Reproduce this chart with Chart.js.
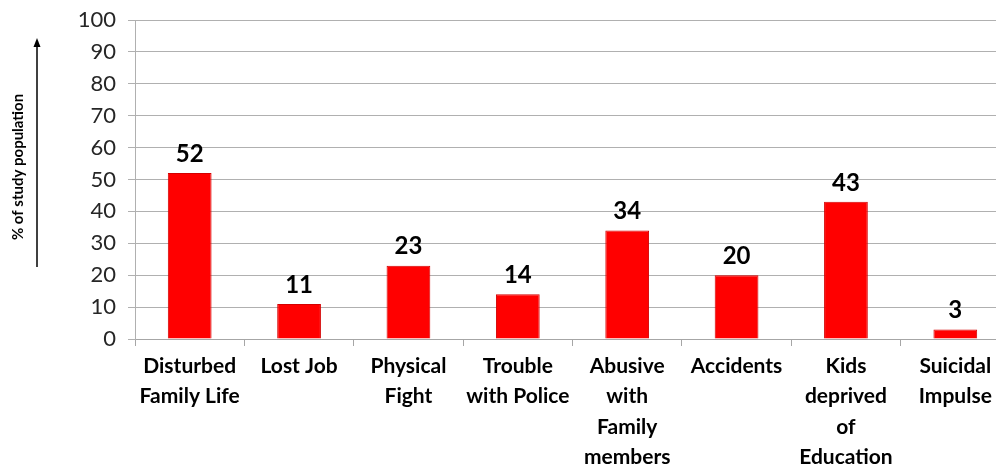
<!DOCTYPE html>
<html>
<head>
<meta charset="utf-8">
<script src="https://cdn.jsdelivr.net/npm/chart.js@4"></script>
<style>
  html, body { margin: 0; padding: 0; background: #fff; overflow: hidden; }
  #wrap { width: 1010px; height: 471px; }
</style>
</head>
<body>
<div id="wrap"><canvas id="chart"></canvas></div>
<script>
// categories (multi-line labels) and values
const categories = [
    ['Disturbed', 'Family Life'],
    ['Lost Job'],
    ['Physical', 'Fight'],
    ['Trouble', 'with Police'],
    ['Abusive', 'with', 'Family', 'members'],
    ['Accidents'],
    ['Kids', 'deprived', 'of', 'Education'],
    ['Suicidal', 'Impulse']
];
const values = [52, 11, 23, 14, 34, 20, 43, 3];
const yTicks = [0, 10, 20, 30, 40, 50, 60, 70, 80, 90, 100];
const yTitle = '% of study population';

const FONT = 'Lato, "Open Sans", sans-serif';

// value labels above each bar
const valueLabels = {
    id: 'valueLabels',
    afterDatasetsDraw(chart) {
        const ctx = chart.ctx;
        const meta = chart.getDatasetMeta(0);
        ctx.save();
        ctx.font = 'bold 24px ' + FONT;
        ctx.fillStyle = '#000';
        ctx.textAlign = 'center';
        ctx.textBaseline = 'bottom';
        meta.data.forEach((bar, i) => {
            ctx.fillText(values[i], bar.x, bar.y - 7);
        });
        ctx.restore();
    }
};

// rotated axis title with an upward arrow beside it
const axisTitle = {
    id: 'axisTitle',
    afterDraw(chart) {
        const ctx = chart.ctx;
        ctx.save();
        ctx.translate(18, 167);
        ctx.rotate(-Math.PI / 2);
        ctx.font = 'bold 15px ' + FONT;
        ctx.fillStyle = '#000';
        ctx.textAlign = 'center';
        ctx.textBaseline = 'middle';
        ctx.fillText(yTitle, 0, 0);
        ctx.restore();

        ctx.save();
        ctx.strokeStyle = '#000';
        ctx.lineWidth = 1.5;
        ctx.beginPath();
        ctx.moveTo(37, 267);
        ctx.lineTo(37, 44);
        ctx.stroke();
        ctx.fillStyle = '#000';
        ctx.beginPath();
        ctx.moveTo(37, 38);
        ctx.lineTo(33.5, 47);
        ctx.lineTo(40.5, 47);
        ctx.closePath();
        ctx.fill();
        ctx.restore();
    }
};

const ctx = document.getElementById('chart').getContext('2d');
new Chart(ctx, {
    type: 'bar',
    data: {
        labels: categories,
        datasets: [{
            data: values,
            backgroundColor: '#ff0000',
            borderColor: '#d40000',
            borderWidth: 1,
            barPercentage: 0.5,
            categoryPercentage: 0.8
        }]
    },
    options: {
        responsive: true,
        maintainAspectRatio: false,
        animation: false,
        layout: { padding: { top: 20, right: 0, left: 0, bottom: 0 } },
        plugins: {
            legend: { display: false },
            tooltip: { enabled: false }
        },
        scales: {
            x: {
                grid: {
                    drawOnChartArea: false,
                    tickLength: 7,
                    color: '#a6a6a6'
                },
                border: { color: '#a6a6a6' },
                ticks: {
                    color: '#000',
                    padding: 5,
                    maxRotation: 0,
                    autoSkip: false,
                    font: { family: FONT, size: 21, weight: 'bold', lineHeight: 1.45 }
                },
                afterFit(scale) { scale.height = 132; }
            },
            y: {
                min: 0,
                max: 100,
                afterBuildTicks(scale) {
                    scale.ticks = yTicks.map(v => ({ value: v }));
                },
                grid: {
                    color: '#b0b0b0',
                    tickLength: 7
                },
                border: { color: '#b0b0b0' },
                ticks: {
                    color: '#262626',
                    padding: 12,
                    font: { family: FONT, size: 22 }
                },
                afterFit(scale) {
                    scale.width = 135;
                    scale.paddingTop = 0;
                }
            }
        }
    },
    plugins: [valueLabels, axisTitle]
});
</script>
</body>
</html>
